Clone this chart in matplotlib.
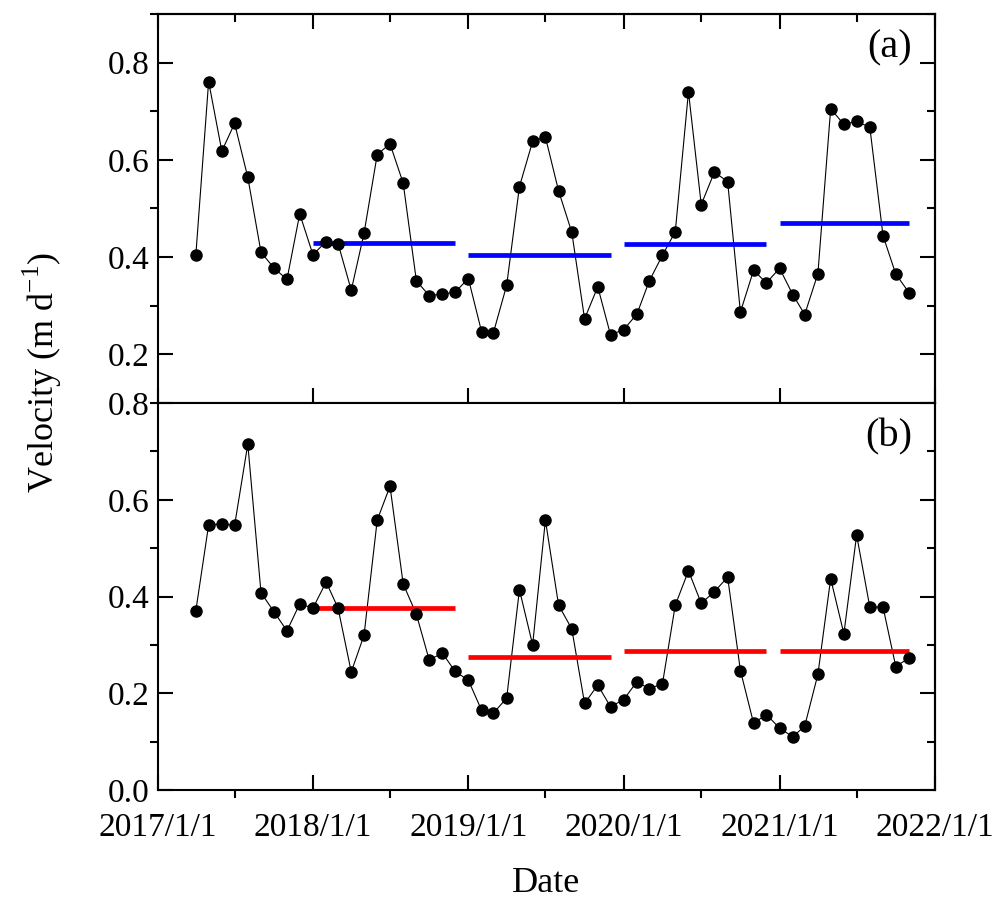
import matplotlib
matplotlib.use("Agg")
import matplotlib.pyplot as plt
import matplotlib.dates as mdates
from matplotlib.ticker import MultipleLocator, FuncFormatter
import numpy as np
import pandas as pd

plt.rcParams['font.family'] = ['Liberation Serif', 'DejaVu Serif']
plt.rcParams['mathtext.fontset'] = 'custom'
plt.rcParams['mathtext.rm'] = 'Liberation Serif'

# monthly observations, 2017/4 - 2021/11
dates = pd.date_range('2017-04-01', periods=56, freq='MS')

vel_a = [0.405, 0.761, 0.618, 0.675, 0.564, 0.410, 0.378, 0.354, 0.489,
         0.405, 0.432, 0.428, 0.332, 0.449, 0.611, 0.633, 0.552, 0.351, 0.321, 0.324, 0.328, 0.356,
         0.247, 0.245, 0.342, 0.545, 0.638, 0.647, 0.536, 0.451, 0.273, 0.339, 0.240, 0.251,
         0.283, 0.351, 0.404, 0.452, 0.740, 0.508, 0.575, 0.555, 0.287, 0.373, 0.347,
         0.377, 0.323, 0.282, 0.366, 0.705, 0.673, 0.679, 0.667, 0.444, 0.365, 0.327]

vel_b = [0.371, 0.548, 0.550, 0.547, 0.715, 0.408, 0.369, 0.329, 0.385,
         0.376, 0.430, 0.376, 0.244, 0.320, 0.558, 0.628, 0.426, 0.363, 0.269, 0.283, 0.245, 0.227,
         0.165, 0.159, 0.190, 0.414, 0.300, 0.558, 0.382, 0.333, 0.179, 0.217, 0.172, 0.187,
         0.224, 0.209, 0.220, 0.382, 0.453, 0.386, 0.410, 0.440, 0.247, 0.138, 0.156,
         0.128, 0.110, 0.132, 0.239, 0.437, 0.323, 0.527, 0.378, 0.378, 0.255, 0.273]

years = [2018, 2019, 2020, 2021]
mean_a = [0.430, 0.404, 0.427, 0.470]
mean_b = [0.376, 0.274, 0.288, 0.288]

fig = plt.figure(figsize=(10.06, 9.01), dpi=100)
ax1 = fig.add_axes([0.1566, 0.5527, 0.7728, 0.4318])
ax2 = fig.add_axes([0.1566, 0.1232, 0.7728, 0.4295])

LW = 1.5
x0 = pd.Timestamp('2017-01-01')
x1 = pd.Timestamp('2022-01-01')


def date_fmt(x, pos):
    d = mdates.num2date(x)
    return f"{d.year}/{d.month}/{d.day}"


def style(ax, ylim, yticks, bottom_panel, label, vals, means, color):
    ax.plot(dates, vals, color='black', lw=0.8, zorder=2)
    for yr, m in zip(years, means):
        sel = dates[dates.year == yr]
        ax.hlines(m, sel[0], sel[-1], color=color, lw=3.4, zorder=3)
    ax.plot(dates, vals, 'o', color='black', ms=8, zorder=4)

    ax.set_xlim(x0, x1)
    ax.set_ylim(*ylim)
    ax.set_yticks(yticks)
    ax.yaxis.set_minor_locator(MultipleLocator(0.1))
    ax.yaxis.set_major_formatter(FuncFormatter(lambda v, p: f"{v:.1f}"))
    ax.xaxis.set_major_locator(mdates.YearLocator())
    ax.xaxis.set_minor_locator(mdates.MonthLocator(bymonth=7))
    ax.xaxis.set_major_formatter(FuncFormatter(date_fmt))

    for s in ax.spines.values():
        s.set_linewidth(LW)
    ax.tick_params(which='major', direction='in', length=11, width=LW,
                   left=True, bottom=True, top=False, right=False,
                   labelsize=24, pad=6)
    ax.tick_params(axis='x', which='major', pad=16)
    ax.tick_params(which='minor', direction='out', length=5.5, width=LW,
                   left=True, bottom=True, top=False, right=False)
    if not bottom_panel:
        ax.tick_params(labelbottom=False)

    secy = ax.secondary_yaxis('right')
    secy.set_yticks(yticks)
    secy.yaxis.set_minor_locator(MultipleLocator(0.1))
    secy.tick_params(which='major', direction='in', length=11, width=LW, labelright=False)
    secy.tick_params(which='minor', direction='in', length=5.5, width=LW)
    secy.spines['right'].set_linewidth(LW)

    if not bottom_panel:
        secx = ax.secondary_xaxis('top')
        secx.xaxis.set_major_locator(mdates.YearLocator())
        secx.xaxis.set_minor_locator(mdates.MonthLocator(bymonth=7))
        secx.tick_params(which='major', direction='in', length=11, width=LW, labeltop=False)
        secx.tick_params(which='minor', direction='in', length=5.5, width=LW)
        secx.spines['top'].set_linewidth(LW)

    ax.text(0.941, 0.913, label, transform=ax.transAxes, fontsize=29,
            ha='center', va='center')


style(ax1, (0.1, 0.9), [0.2, 0.4, 0.6, 0.8], False, '(a)', vel_a, mean_a, '#0000ff')
style(ax2, (0.0, 0.8), [0.0, 0.2, 0.4, 0.6, 0.8], True, '(b)', vel_b, mean_b, '#ff0000')

fig.text(42 / 1006, 1 - 372 / 901, r'Velocity (m d$^{\mathregular{-1}}$)',
         rotation=90, ha='center', va='center', fontsize=26)
fig.text(546 / 1006, 1 - 884 / 901, 'Date', ha='center', va='center', fontsize=26)

fig.savefig('out.png', dpi=100)
